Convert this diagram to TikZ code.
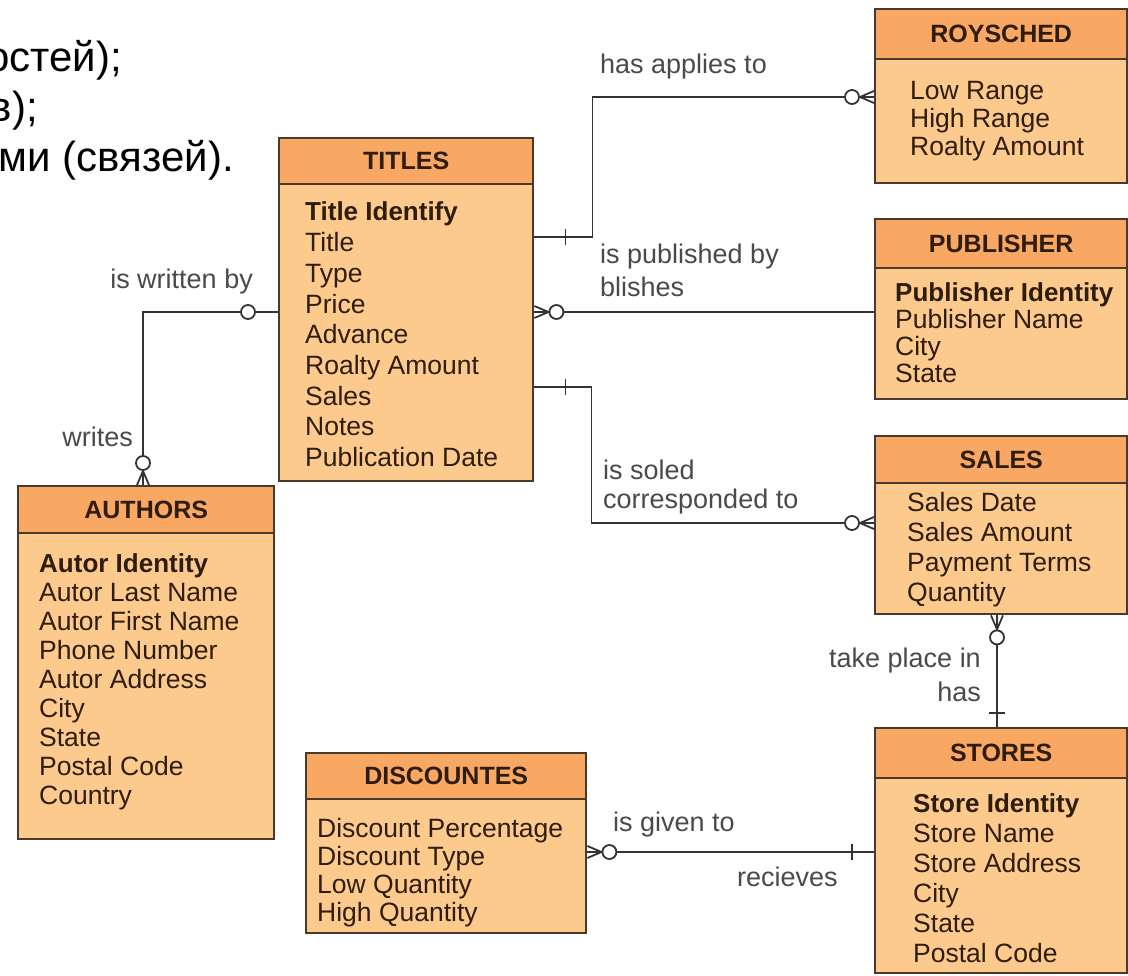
\documentclass[tikz,border=0pt]{standalone}
\usepackage{fontspec}
\setmainfont{Liberation Sans}
\usetikzlibrary{calc}
\definecolor{bodyc}{HTML}{FDCA8E}
\definecolor{headc}{HTML}{F8A863}
\definecolor{edgec}{HTML}{4A3A2C}
\definecolor{txtc}{HTML}{2E1C0C}
\definecolor{lblc}{HTML}{4A4A4A}
\definecolor{linec}{HTML}{333333}
\begin{document}
\begin{tikzpicture}[x=1pt,y=-1pt,
  entbox/.style={draw=edgec, line width=2.4pt, fill=bodyc, anchor=north west, inner sep=0pt},
  headbox/.style={draw=edgec, line width=2.4pt, fill=headc, anchor=north west, inner sep=0pt},
  headtxt/.style={inner sep=0pt, text=txtc, font=\fontsize{25}{28}\selectfont\bfseries},
  attr/.style={anchor=base west, inner sep=0pt, text=txtc, font=\fontsize{26.5}{30}\selectfont},
  keyattr/.style={anchor=base west, inner sep=0pt, text=txtc, font=\fontsize{26}{30}\selectfont\bfseries},
  lbl/.style={inner sep=0pt, text=lblc, font=\fontsize{27}{30}\selectfont},
  rus/.style={inner sep=0pt, anchor=base east, text=black, font=\fontsize{42}{48}\selectfont},
  conn/.style={draw=linec, line width=1.8pt},
  pics/crow/.style={code={
    \draw[conn] (-14,0) -- (0,-6) (-14,0) -- (0,6) (-14,0) -- (0,0);
    \draw[conn, fill=white] (-22,0) circle[radius=7];
  }}
]
\useasboundingbox (0,0) rectangle (1128,976);
\fill[white] (0,0) rectangle (1128,976);

% Russian text (cropped at the left, as in the reference)
\node[rus] (ru1) at (122,72) {остей);};
\node[rus] (ru2) at (38,122) {в);};
\node[rus] (ru3) at (234,172) {ми (связей).};

% ---------- TITLES ----------
\node[entbox, minimum width=254pt, minimum height=343pt] (titles) at (278,137) {};
\node[headbox, minimum width=254pt, minimum height=46pt] (titlesh) at (titles.north west) {};
\node[headtxt] (titlest) at (titlesh.center) {TITLES};
\node[keyattr] (tik) at (305,221) {Title Identify};
\foreach \t [count=\i] in {Title,Type,Price,Advance,Roalty Amount,Sales,Notes,Publication Date}
  \node[attr] (ti\i) at (305,{251.7+30.7*(\i-1)}) {\t};

% ---------- ROYSCHED ----------
\node[entbox, minimum width=252pt, minimum height=174pt] (roy) at (874,8) {};
\node[headbox, minimum width=252pt, minimum height=50pt] (royh) at (roy.north west) {};
\node[headtxt] (royt) at (royh.center) {ROYSCHED};
\foreach \t [count=\i] in {Low Range,High Range,Roalty Amount}
  \node[attr] (ro\i) at (910,{100+28*(\i-1)}) {\t};

% ---------- PUBLISHER ----------
\node[entbox, minimum width=252pt, minimum height=180pt] (pub) at (874,218) {};
\node[headbox, minimum width=252pt, minimum height=49pt] (pubh) at (pub.north west) {};
\node[headtxt] (pubt) at (pubh.center) {PUBLISHER};
\node[keyattr] (puk) at (895,302) {Publisher Identity};
\foreach \t [count=\i] in {Publisher Name,City,State}
  \node[attr] (pu\i) at (895,{328.7+26.7*(\i-1)}) {\t};

% ---------- SALES ----------
\node[entbox, minimum width=252pt, minimum height=178pt] (sales) at (874,435) {};
\node[headbox, minimum width=252pt, minimum height=47pt] (salesh) at (sales.north west) {};
\node[headtxt] (salest) at (salesh.center) {SALES};
\foreach \t [count=\i] in {Sales Date,Sales Amount,Payment Terms,Quantity}
  \node[attr] (sa\i) at (907,{511+30.2*(\i-1)}) {\t};

% ---------- STORES ----------
\node[entbox, minimum width=252pt, minimum height=245pt] (stores) at (874,727) {};
\node[headbox, minimum width=252pt, minimum height=50pt] (storesh) at (stores.north west) {};
\node[headtxt] (storest) at (storesh.center) {STORES};
\node[keyattr] (stk) at (913,812) {Store Identity};
\foreach \t [count=\i] in {Store Name,Store Address,City,State,Postal Code}
  \node[attr] (st\i) at (913,{842+30*(\i-1)}) {\t};

% ---------- AUTHORS ----------
\node[entbox, minimum width=256pt, minimum height=353pt] (authors) at (17,485) {};
\node[headbox, minimum width=256pt, minimum height=47pt] (authorsh) at (authors.north west) {};
\node[headtxt] (authorst) at (authorsh.center) {AUTHORS};
\node[keyattr] (auk) at (39,572) {Autor Identity};
\foreach \t [count=\i] in {Autor Last Name,Autor First Name,Phone Number,Autor Address,City,State,Postal Code,Country}
  \node[attr] (au\i) at (39,{601+29*(\i-1)}) {\t};

% ---------- DISCOUNTES ----------
\node[entbox, minimum width=280pt, minimum height=180pt] (disc) at (305,752) {};
\node[headbox, minimum width=280pt, minimum height=46pt] (disch) at (disc.north west) {};
\node[headtxt] (disct) at (disch.center) {DISCOUNTES};
\foreach \t [count=\i] in {Discount Percentage,Discount Type,Low Quantity,High Quantity}
  \node[attr] (di\i) at (317,{837+28*(\i-1)}) {\t};

% ---------- connectors ----------
% TITLES -- ROYSCHED
\coordinate (c1a) at ([yshift=-100pt]titles.north east);
\coordinate (c1b) at ([yshift=-89pt]roy.north west);
\coordinate (c1m) at ($(c1a)+(58,0)$);
\draw[conn] (c1a) -- (c1m) |- (c1b);
\draw[conn] ($(c1a)+(31,-8)$) -- ($(c1a)+(31,8)$);
\pic at (c1b) {crow};
\node[lbl, anchor=west] (l1) at (600,67) {has applies to};

% TITLES -- PUBLISHER
\coordinate (c2a) at ([yshift=-175pt]titles.north east);
\coordinate (c2b) at (c2a -| pub.west);
\draw[conn] (c2a) -- (c2b);
\pic[rotate=180] at (c2a) {crow};
\node[lbl, anchor=west] (l2a) at (600,257) {is published by};
\node[lbl, anchor=west] (l2b) at (600,287) {blishes};

% TITLES -- SALES
\coordinate (c3a) at ([yshift=-250pt]titles.north east);
\coordinate (c3b) at ([yshift=-88pt]sales.north west);
\coordinate (c3m) at ($(c3a)+(57,0)$);
\draw[conn] (c3a) -- (c3m) |- (c3b);
\draw[conn] ($(c3a)+(31,-8)$) -- ($(c3a)+(31,8)$);
\pic at (c3b) {crow};
\node[lbl, anchor=west] (l3a) at (603,470) {is soled};
\node[lbl, anchor=west] (l3b) at (603,502) {corresponded to};

% TITLES -- AUTHORS
\coordinate (c4a) at ([yshift=-175pt]titles.north west);
\coordinate (c4b) at ([xshift=126pt]authors.north west);
\draw[conn] (c4a) -| (c4b);
\draw[conn, fill=white] ($(c4a)+(-30,0)$) circle[radius=7];
\pic[rotate=-90] at (c4b) {crow};
\node[lbl, anchor=east] (l4a) at (253,282) {is written by};
\node[lbl, anchor=east] (l4b) at (133,437) {writes};

% SALES -- STORES
\coordinate (c5a) at ([xshift=123pt]sales.south west);
\coordinate (c5b) at (c5a |- stores.north);
\draw[conn] (c5a) -- (c5b);
\pic[rotate=90] at (c5a) {crow};
\draw[conn] ($(c5b)+(-8,-14)$) -- ($(c5b)+(8,-14)$);
\node[lbl, anchor=east] (l5a) at (981,661) {take place in};
\node[lbl, anchor=east] (l5b) at (981,692) {has};

% DISCOUNTES -- STORES
\coordinate (c6a) at ([yshift=-100pt]disc.north east);
\coordinate (c6b) at (c6a -| stores.west);
\draw[conn] (c6a) -- (c6b);
\pic[rotate=180] at (c6a) {crow};
\draw[conn] ($(c6b)+(-22,-8)$) -- ($(c6b)+(-22,8)$);
\node[lbl, anchor=west] (l6a) at (613,825) {is given to};
\node[lbl, anchor=west] (l6b) at (737,877) {recieves};
\end{tikzpicture}
\end{document}
